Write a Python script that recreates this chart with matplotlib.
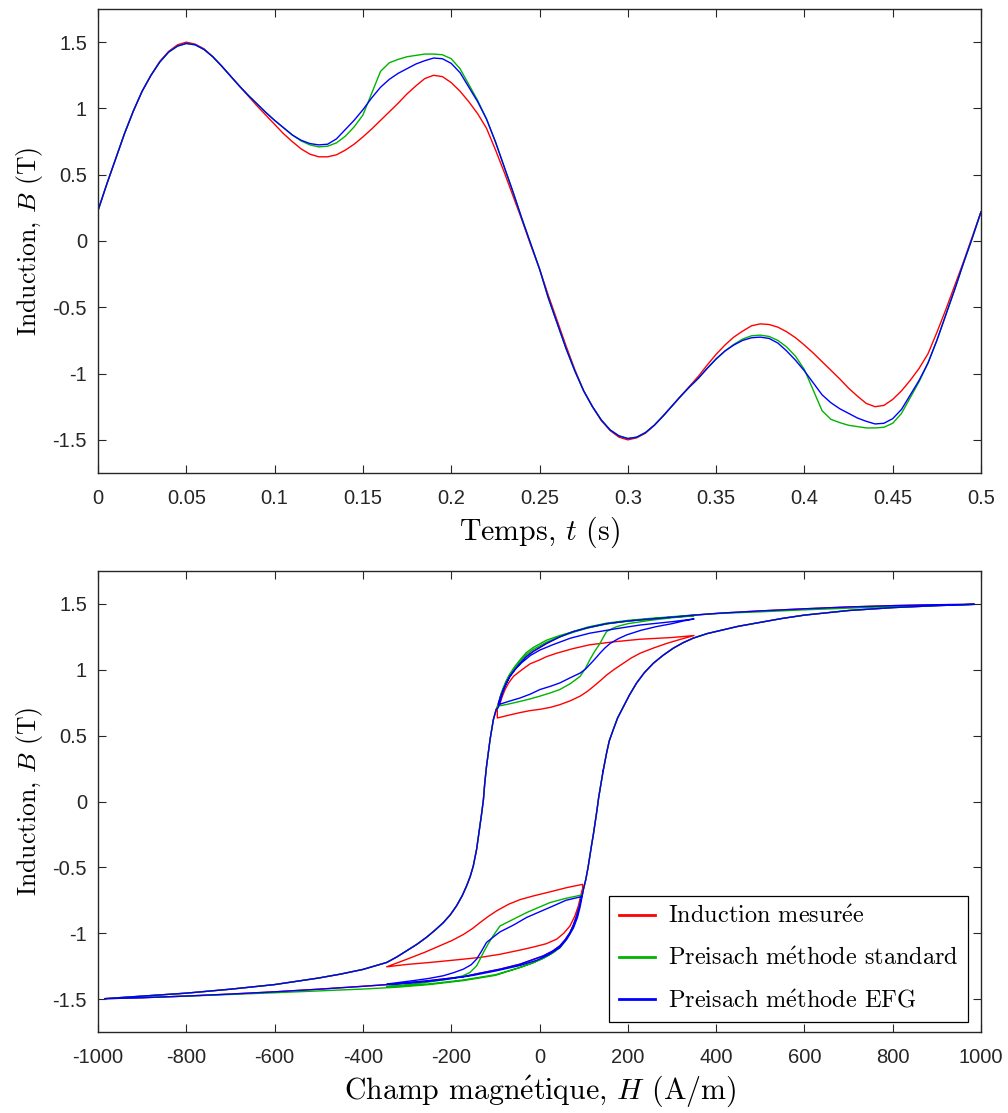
import matplotlib
matplotlib.use("Agg")
import matplotlib.pyplot as plt
import numpy as np

plt.rcParams['mathtext.fontset'] = 'cm'
plt.rcParams['axes.unicode_minus'] = False

# ---------------- top panel : B(t) ----------------
t = [0.000, 0.005, 0.010, 0.015, 0.020, 0.025, 0.030, 0.035, 0.040, 0.045,
     0.050, 0.055, 0.060, 0.065, 0.070, 0.075, 0.080, 0.085, 0.090, 0.095,
     0.100, 0.105, 0.110, 0.115, 0.120, 0.125, 0.130, 0.135, 0.140, 0.145,
     0.150, 0.155, 0.160, 0.165, 0.170, 0.175, 0.180, 0.185, 0.190, 0.195,
     0.200, 0.205, 0.210, 0.215, 0.220, 0.225, 0.230, 0.235, 0.240, 0.245,
     0.250, 0.255, 0.260, 0.265, 0.270, 0.275, 0.280, 0.285, 0.290, 0.295,
     0.300, 0.305, 0.310, 0.315, 0.320, 0.325, 0.330, 0.335, 0.340, 0.345,
     0.350, 0.355, 0.360, 0.365, 0.370, 0.375, 0.380, 0.385, 0.390, 0.395,
     0.400, 0.405, 0.410, 0.415, 0.420, 0.425, 0.430, 0.435, 0.440, 0.445,
     0.450, 0.455, 0.460, 0.465, 0.470, 0.475, 0.480, 0.485, 0.490, 0.495, 0.500]

B_meas_t = [0.23, 0.43, 0.62, 0.81, 0.98, 1.13, 1.25, 1.355, 1.43, 1.48,
            1.50, 1.485, 1.45, 1.39, 1.32, 1.245, 1.17, 1.095, 1.02, 0.95,
            0.88, 0.81, 0.75, 0.695, 0.655, 0.635, 0.635, 0.65, 0.685, 0.73,
            0.785, 0.845, 0.91, 0.975, 1.04, 1.11, 1.17, 1.225, 1.25, 1.24,
            1.195, 1.13, 1.05, 0.96, 0.85, 0.69, 0.52, 0.34, 0.16, -0.03,
            -0.21, -0.41, -0.60, -0.79, -0.97, -1.13, -1.25, -1.355, -1.43, -1.48,
            -1.50, -1.485, -1.45, -1.39, -1.32, -1.245, -1.17, -1.095, -1.02, -0.935,
            -0.855, -0.785, -0.725, -0.68, -0.64, -0.625, -0.63, -0.65, -0.685, -0.73,
            -0.785, -0.845, -0.91, -0.975, -1.04, -1.11, -1.17, -1.225, -1.25, -1.24,
            -1.195, -1.13, -1.05, -0.96, -0.85, -0.69, -0.52, -0.34, -0.16, 0.03, 0.22]

B_std_t = [0.23, 0.43, 0.62, 0.81, 0.98, 1.13, 1.25, 1.35, 1.425, 1.47,
           1.49, 1.48, 1.445, 1.39, 1.32, 1.245, 1.17, 1.10, 1.035, 0.97,
           0.91, 0.855, 0.80, 0.755, 0.725, 0.71, 0.715, 0.74, 0.79, 0.86,
           0.95, 1.115, 1.28, 1.345, 1.37, 1.39, 1.40, 1.41, 1.41, 1.405,
           1.375, 1.30, 1.18, 1.06, 0.92, 0.75, 0.56, 0.37, 0.17, -0.02,
           -0.21, -0.43, -0.62, -0.81, -0.98, -1.13, -1.25, -1.35, -1.425, -1.47,
           -1.49, -1.48, -1.445, -1.39, -1.32, -1.245, -1.17, -1.10, -1.035, -0.96,
           -0.89, -0.83, -0.78, -0.74, -0.715, -0.71, -0.72, -0.75, -0.80, -0.87,
           -0.97, -1.125, -1.28, -1.345, -1.37, -1.39, -1.40, -1.41, -1.41, -1.405,
           -1.375, -1.30, -1.18, -1.06, -0.92, -0.75, -0.56, -0.37, -0.17, 0.02, 0.22]

B_efg_t = [0.23, 0.43, 0.62, 0.81, 0.98, 1.13, 1.25, 1.35, 1.425, 1.47,
           1.49, 1.48, 1.445, 1.39, 1.32, 1.245, 1.17, 1.10, 1.035, 0.97,
           0.91, 0.855, 0.80, 0.76, 0.735, 0.725, 0.73, 0.77, 0.84, 0.91,
           0.99, 1.08, 1.16, 1.22, 1.265, 1.30, 1.335, 1.36, 1.38, 1.375,
           1.34, 1.27, 1.16, 1.05, 0.92, 0.75, 0.56, 0.37, 0.17, -0.02,
           -0.21, -0.43, -0.62, -0.81, -0.98, -1.13, -1.25, -1.35, -1.425, -1.47,
           -1.49, -1.48, -1.445, -1.39, -1.32, -1.245, -1.17, -1.10, -1.035, -0.96,
           -0.89, -0.83, -0.785, -0.75, -0.73, -0.725, -0.735, -0.77, -0.83, -0.90,
           -0.98, -1.07, -1.16, -1.22, -1.265, -1.30, -1.335, -1.36, -1.38, -1.375,
           -1.34, -1.27, -1.16, -1.05, -0.92, -0.75, -0.56, -0.37, -0.17, 0.02, 0.22]

# ---------------- bottom panel : B(H) ----------------
# shared major-loop branches
H_right_up = [144, 148, 152, 158, 167, 177, 190, 204, 220, 238, 258, 280, 303, 325, 348,
              380, 409, 450, 500, 550, 600, 700, 800, 900, 985]
B_right_up = [0.23, 0.30, 0.369, 0.46, 0.545, 0.635, 0.72, 0.81, 0.90, 0.98, 1.05, 1.11,
              1.164, 1.205, 1.24, 1.275, 1.298, 1.33, 1.36, 1.39, 1.415, 1.45, 1.472,
              1.487, 1.497]

H_left_down = [-98, -104.6, -108, -112, -116, -120, -124, -127, -131, -135, -139, -142.5,
               -150, -157, -165, -175, -187.5, -202, -218, -236, -255.5, -278, -301, -323,
               -346, -400, -450, -500, -550, -600, -700, -800, -900, -985]
B_left_down = [0.70, 0.62, 0.55, 0.47, 0.37, 0.267, 0.14, 0.015, -0.09, -0.187, -0.28,
               -0.364, -0.49, -0.57, -0.64, -0.715, -0.79, -0.86, -0.92, -0.975, -1.03,
               -1.085, -1.134, -1.18, -1.222, -1.275, -1.31, -1.34, -1.365, -1.39, -1.425,
               -1.455, -1.478, -1.497]

H_right_rise = [100, 105, 110, 114, 118, 122, 126, 130, 134, 137, 141, 144]
B_right_rise = [-0.66, -0.59, -0.50, -0.414, -0.33, -0.25, -0.16, -0.07, 0.03, 0.09,
                0.17, 0.23]

H_upper = [900, 800, 700, 600, 500, 409, 350, 303, 250, 200, 152, 110, 76.5, 46, 16, -14,
           -30, -44, -56, -67, -75, -82, -88, -93]
B_upper = [1.494, 1.487, 1.477, 1.463, 1.447, 1.43, 1.415, 1.40, 1.385, 1.37, 1.35, 1.32,
           1.29, 1.25, 1.20, 1.14, 1.10, 1.05, 1.0, 0.95, 0.90, 0.85, 0.80, 0.748]

H_lower = [-900, -800, -700, -600, -500, -400, -323, -250, -173, -130, -89.5, -44, -15,
           8.6, 30, 46, 58, 69, 77, 84, 90, 95.5]
B_lower = [-1.49, -1.477, -1.462, -1.445, -1.425, -1.403, -1.385, -1.36, -1.33, -1.30,
           -1.273, -1.235, -1.20, -1.172, -1.135, -1.096, -1.05, -0.995, -0.935, -0.869,
           -0.80, -0.717]

# measured induction: minor loops
H_meas_c1 = [-95.6, -95.6, -70, -44, -21.5, 1, 25, 46, 70, 92, 108, 122, 137, 152, 170,
             190, 208, 228, 258, 288, 320, 350]
B_meas_c1 = [0.72, 0.634, 0.655, 0.675, 0.69, 0.70, 0.715, 0.735, 0.765, 0.80, 0.835,
             0.873, 0.915, 0.96, 1.005, 1.05, 1.09, 1.126, 1.165, 1.20, 1.232, 1.26]
H_meas_c2 = [300, 228, 170, 114, 75, 39, 16, 1, -21.5, -40, -59, -70, -78, -84, -90]
B_meas_c2 = [1.245, 1.232, 1.213, 1.19, 1.16, 1.126, 1.10, 1.076, 1.045, 1.0, 0.95, 0.90,
             0.85, 0.80, 0.74]
H_meas_c3 = [97.6, 97.6, 61.5, 25, -14, -44, -70, -97, -115, -135, -152, -172.6, -198,
             -225.4, -260, -300, -346]
B_meas_c3 = [-0.70, -0.629, -0.654, -0.685, -0.717, -0.745, -0.78, -0.83, -0.87, -0.92,
             -0.965, -1.01, -1.055, -1.095, -1.145, -1.197, -1.255]
H_meas_c4 = [-300, -248, -190, -135, -89.5, -44, -14, 15, 39, 55, 69, 80, 88, 93, 97]
B_meas_c4 = [-1.237, -1.222, -1.203, -1.184, -1.16, -1.128, -1.105, -1.08, -1.045, -1.0,
             -0.945, -0.87, -0.793, -0.72, -0.67]

# Preisach standard
H_std_top = [900, 800, 700, 600, 500, 409, 350, 303, 250, 200, 152, 110, 76.5, 46, 16,
             -14, -30, -44, -56, -67, -75, -82, -88, -92]
B_std_top = [1.49, 1.48, 1.468, 1.455, 1.44, 1.428, 1.416, 1.404, 1.39, 1.375, 1.354,
             1.325, 1.29, 1.26, 1.225, 1.17, 1.13, 1.076, 1.025, 0.97, 0.92, 0.865, 0.81,
             0.725]
H_std_c1 = [-70, -44, -20, 1, 25, 46, 70, 92, 104, 114, 125, 137, 145, 152, 163, 175, 200,
            250, 300, 350]
B_std_c1 = [0.74, 0.76, 0.78, 0.80, 0.825, 0.85, 0.895, 0.95, 1.01, 1.076, 1.14, 1.20,
            1.25, 1.29, 1.31, 1.328, 1.35, 1.375, 1.395, 1.41]
H_std_c2 = [303, 250, 200, 152, 110, 76.5, 46, 16, -14, -30, -44, -56, -67, -75, -82,
            -88, -93]
B_std_c2 = [1.40, 1.386, 1.37, 1.348, 1.318, 1.285, 1.25, 1.21, 1.155, 1.115, 1.065,
            1.015, 0.96, 0.91, 0.855, 0.80, 0.74]
H_std_bot = [-900, -800, -700, -600, -500, -400, -323, -250, -173, -100, -44, -15, 8.6,
             30, 46, 58, 69, 77, 84, 90, 95.5]
B_std_bot = [-1.488, -1.478, -1.465, -1.452, -1.438, -1.424, -1.41, -1.39, -1.36, -1.32,
             -1.26, -1.225, -1.19, -1.15, -1.11, -1.06, -1.005, -0.945, -0.88, -0.81,
             -0.71]
H_std_c3 = [60, 24, -29, -60, -89.5, -105, -117, -127, -135, -142.5, -157.5, -175, -210,
            -260, -300, -346]
B_std_c3 = [-0.735, -0.767, -0.843, -0.895, -0.945, -1.02, -1.085, -1.146, -1.20, -1.248,
            -1.298, -1.325, -1.35, -1.375, -1.39, -1.405]
H_std_c4 = [-300, -250, -173, -100, -44, -15, 8.6, 30, 46, 58, 69, 77, 84, 90, 95]
B_std_c4 = [-1.398, -1.385, -1.355, -1.315, -1.26, -1.225, -1.19, -1.148, -1.105, -1.055,
            -1.0, -0.94, -0.875, -0.805, -0.73]

# Preisach EFG
H_efg_c1 = [-93, -70, -44, -21, 1, 25, 46, 70, 92, 104, 114, 125, 137, 148, 160, 178,
            197.5, 230, 265, 300, 325, 350]
B_efg_c1 = [0.735, 0.76, 0.786, 0.815, 0.85, 0.875, 0.90, 0.94, 0.975, 1.005, 1.04, 1.08,
            1.126, 1.165, 1.20, 1.235, 1.265, 1.30, 1.328, 1.35, 1.37, 1.386]
H_efg_c2 = [300, 228, 170, 114, 70, 30, 1, -20, -40, -56, -67, -76, -83, -89, -94]
B_efg_c2 = [1.365, 1.34, 1.31, 1.278, 1.24, 1.19, 1.15, 1.11, 1.055, 1.0, 0.95, 0.89,
            0.83, 0.76, 0.71]
H_efg_c3 = [95.5, 60, 31, -29, -60, -89.5, -105, -120, -132, -142.5, -155, -172.6, -195,
            -218, -250, -286, -320, -346]
B_efg_c3 = [-0.722, -0.75, -0.793, -0.88, -0.94, -0.99, -1.03, -1.07, -1.14, -1.197,
            -1.24, -1.273, -1.30, -1.323, -1.343, -1.36, -1.375, -1.386]
H_efg_c4 = [-300, -250, -210, -150, -97, -44, -6, 20, 46, 62, 77, 86, 92, 96]
B_efg_c4 = [-1.38, -1.365, -1.35, -1.32, -1.285, -1.245, -1.205, -1.165, -1.11, -1.045,
            -0.96, -0.88, -0.80, -0.73]

labels = [r'Induction mesur$\acute{\mathrm{e}}$e',
          r'Preisach m$\acute{\mathrm{e}}$thode standard',
          r'Preisach m$\acute{\mathrm{e}}$thode EFG']
colors = ['#ff0000', '#00b400', '#0000ff']

yticks = [-1.5, -1, -0.5, 0, 0.5, 1, 1.5]
yticklabels = ['-1.5', '-1', '-0.5', '0', '0.5', '1', '1.5']
tticks = [0, 0.05, 0.1, 0.15, 0.2, 0.25, 0.3, 0.35, 0.4, 0.45, 0.5]
tticklabels = ['0', '0.05', '0.1', '0.15', '0.2', '0.25', '0.3', '0.35', '0.4', '0.45', '0.5']
hticks = [-1000, -800, -600, -400, -200, 0, 200, 400, 600, 800, 1000]
hticklabels = ['-1000', '-800', '-600', '-400', '-200', '0', '200', '400', '600', '800', '1000']


def build(parts):
    H = []
    B = []
    for h, b in parts:
        H += list(h)
        B += list(b)
    return np.array(H, float), np.array(B, float)


H_meas, B_meas_h = build([(H_right_up, B_right_up), (H_upper, B_upper),
                          (H_meas_c1, B_meas_c1), (H_meas_c2, B_meas_c2),
                          (H_left_down, B_left_down), (H_lower, B_lower),
                          (H_meas_c3, B_meas_c3), (H_meas_c4, B_meas_c4),
                          (H_right_rise, B_right_rise)])
H_std, B_std_h = build([(H_right_up, B_right_up), (H_std_top, B_std_top),
                        (H_std_c1, B_std_c1), (H_std_c2, B_std_c2),
                        (H_left_down, B_left_down), (H_std_bot, B_std_bot),
                        (H_std_c3, B_std_c3), (H_std_c4, B_std_c4),
                        (H_right_rise, B_right_rise)])
H_efg, B_efg_h = build([(H_right_up, B_right_up), (H_upper, B_upper),
                        (H_efg_c1, B_efg_c1), (H_efg_c2, B_efg_c2),
                        (H_left_down, B_left_down), (H_lower, B_lower),
                        (H_efg_c3, B_efg_c3), (H_efg_c4, B_efg_c4),
                        (H_right_rise, B_right_rise)])

serif = ['cmr10', 'DejaVu Serif']
tickfont = 'Liberation Sans'
axcol = '#262626'
LW = 1.0

fig = plt.figure(figsize=(10.08, 11.13), dpi=100)
ax1 = fig.add_axes([98 / 1008, 1 - 473 / 1113, 883 / 1008, 464 / 1113])
ax2 = fig.add_axes([98 / 1008, 1 - 1032 / 1113, 883 / 1008, 461 / 1113])


def style(ax, xt, xtl):
    ax.set_ylim(-1.75, 1.75)
    ax.set_yticks(yticks)
    ax.set_yticklabels(yticklabels, fontfamily=tickfont, fontsize=14.5, color=axcol)
    ax.set_xticks(xt)
    ax.set_xticklabels(xtl, fontfamily=tickfont, fontsize=14.5, color=axcol)
    ax.tick_params(direction='in', length=6, width=0.8, top=True, right=True,
                   color=axcol)
    ax.tick_params(axis='y', pad=8)
    ax.tick_params(axis='x', pad=11.5)
    for s in ax.spines.values():
        s.set_color(axcol)
        s.set_linewidth(1.0)
    ax.set_ylabel(r'Induction, $B$ (T)', fontfamily=serif, fontsize=18.5, labelpad=5)


ax1.plot(t, B_meas_t, color=colors[0], lw=LW)
ax1.plot(t, B_std_t, color=colors[1], lw=LW)
ax1.plot(t, B_efg_t, color=colors[2], lw=LW)
ax1.set_xlim(0, 0.5)
style(ax1, tticks, tticklabels)
ax1.set_xlabel(r'Temps, $t$ (s)', fontfamily=serif, fontsize=21.5, labelpad=5)

ax2.plot(H_meas, B_meas_h, color=colors[0], lw=LW, label=labels[0])
ax2.plot(H_std, B_std_h, color=colors[1], lw=LW, label=labels[1])
ax2.plot(H_efg, B_efg_h, color=colors[2], lw=LW, label=labels[2])
ax2.set_xlim(-1000, 1000)
style(ax2, hticks, hticklabels)
ax2.set_xlabel(r'Champ magn$\acute{\mathrm{e}}$tique, $H$ (A/m)', fontfamily=serif,
               fontsize=21.5, labelpad=5)

leg = ax2.legend(loc='lower right', bbox_to_anchor=(0.9853, 0.0217), borderaxespad=0,
                 fancybox=False, framealpha=1, edgecolor='black',
                 prop={'family': serif, 'size': 17.5}, handlelength=1.5,
                 labelspacing=0.8, borderpad=0.4, handletextpad=0.5)
leg.get_frame().set_linewidth(0.9)
for line in leg.get_lines():
    line.set_linewidth(2.0)

fig.savefig('out.png', dpi=100, facecolor='white')
